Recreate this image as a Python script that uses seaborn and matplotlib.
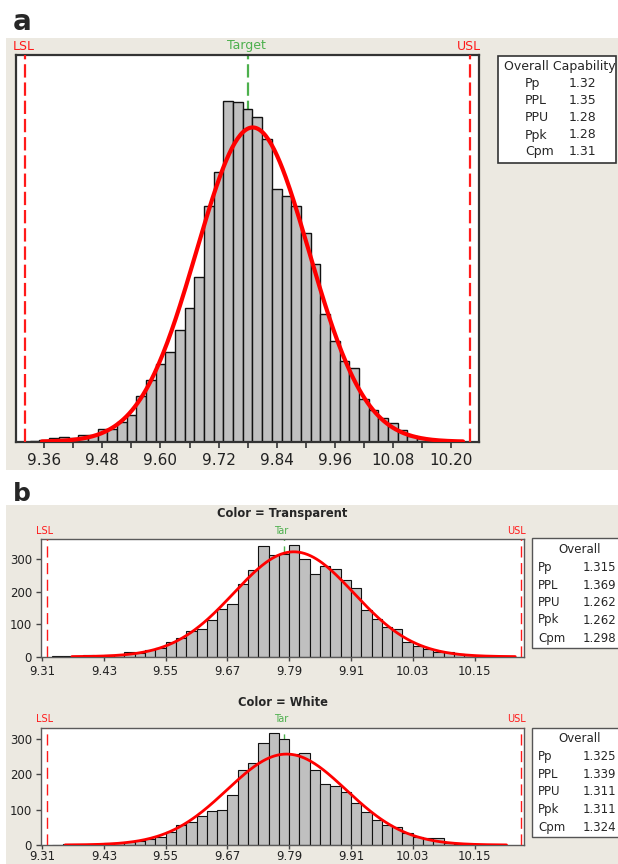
import numpy as np
import pandas as pd
import matplotlib
matplotlib.use('Agg')
import matplotlib.pyplot as plt
from matplotlib.patches import Rectangle
import seaborn as sns

# ---- data ----
# bin centres, bin width 0.02
bin_centers = np.round(np.arange(9.34, 10.201, 0.02), 2)
bin_width = 0.02

# Color = Transparent counts
counts_transparent = [1, 1, 3, 4, 3, 6, 6, 14, 12, 20,
                      26, 46, 56, 78, 84, 112, 146, 162, 225, 266,
                      340, 312, 316, 344, 300, 253, 280, 269, 236, 210,
                      144, 115, 92, 84, 46, 34, 24, 15, 15, 8,
                      5, 2, 1, 0]
# Color = White counts
counts_white = [0, 2, 3, 4, 3, 7, 6, 9, 12, 16,
                24, 38, 57, 66, 82, 95, 100, 142, 211, 232,
                289, 316, 299, 256, 259, 213, 173, 167, 149, 118,
                92, 71, 57, 52, 33, 24, 19, 19, 7, 3,
                2, 1, 1, 1]
# panel a is both colours pooled
counts_all = list(np.array(counts_transparent) + np.array(counts_white))

LSL = 9.32
TARGET = 9.78
USL = 10.24

stat_names = ['Pp', 'PPL', 'PPU', 'Ppk', 'Cpm']
stats_all = ['1.32', '1.35', '1.28', '1.28', '1.31']
stats_transparent = ['1.315', '1.369', '1.262', '1.262', '1.298']
stats_white = ['1.325', '1.339', '1.311', '1.311', '1.324']

# x range covered by the fitted normal curve
curve_range_all = (9.355, 10.225)
curve_range_transparent = (9.368, 10.229)
curve_range_white = (9.355, 10.212)

# ---- figure ----
sns.set_style('ticks')
plt.rcParams['font.family'] = ['DejaVu Sans']

W, H = 618, 864
fig = plt.figure(figsize=(W / 100, H / 100), dpi=100)
fig.patch.set_facecolor('white')

beige = '#ECE9E1'
red = '#FF1A1A'
green = '#4DB04D'


def fbox(l, t, r, b):
    return [l / W, 1 - b / H, (r - l) / W, (b - t) / H]


def ftext(x, y, s, **kw):
    fig.text(x / W, 1 - y / H, s, **kw)


def frect(l, t, r, b, **kw):
    fig.add_artist(Rectangle((l / W, 1 - b / H), (r - l) / W, (b - t) / H,
                             transform=fig.transFigure, **kw))


def fit_curve(counts, pp, ppl, crange):
    # normal fit from the printed Pp / PPL
    sigma = (USL - LSL) / (6 * float(pp))
    mean = LSL + 3 * sigma * float(ppl)
    n = sum(counts)
    x = np.linspace(crange[0], crange[1], 300)
    y = n * bin_width * np.exp(-0.5 * ((x - mean) / sigma) ** 2) / (sigma * np.sqrt(2 * np.pi))
    return x, y


def draw_panel(ax, counts, stats, crange, curve_lw, line_lw, dash, edge_lw, spine_col, spine_lw):
    df = pd.DataFrame({'value': bin_centers, 'count': np.asarray(counts, dtype=float)})
    edges = list(np.append(bin_centers - bin_width / 2, bin_centers[-1] + bin_width / 2))
    sns.histplot(data=df, x='value', weights='count', bins=edges, ax=ax,
                 color='#C0C0C0', edgecolor='#111111', linewidth=edge_lw, alpha=1, zorder=2)
    ax.axvline(TARGET, color=green, lw=line_lw, ls=(0, dash), zorder=1)
    ax.axvline(LSL, color=red, lw=line_lw, ls=(0, dash), zorder=3)
    ax.axvline(USL, color=red, lw=line_lw, ls=(0, dash), zorder=3)
    x, y = fit_curve(counts, stats[0], stats[1], crange)
    ax.plot(x, y, color='#FF0000', lw=curve_lw, zorder=4, solid_capstyle='round')
    ax.set_ylabel('')
    ax.set_xlabel('')
    for s in ax.spines.values():
        s.set_visible(True)
        s.set_color(spine_col)
        s.set_linewidth(spine_lw)


# backgrounds
frect(6, 38, 618, 470, facecolor=beige, edgecolor='none', zorder=0)
frect(6, 505, 618, 864, facecolor=beige, edgecolor='none', zorder=0)

# ---------- panel a ----------
ax_a = fig.add_axes(fbox(16, 55, 479, 441.7))
draw_panel(ax_a, counts_all, stats_all, curve_range_all, 3.0, 1.6, (6, 2.2), 1.0, '#333333', 1.6)
ax_a.set_xlim(9.3015, 10.258)
ax_a.set_ylim(0, max(counts_all) * 1.135)
ax_a.set_yticks([])
a_ticks = np.round(np.arange(9.36, 10.201, 0.06), 2)
ax_a.set_xticks(a_ticks)
ax_a.set_xticklabels([f'{v:.2f}' if i % 2 == 0 else '' for i, v in enumerate(a_ticks)])
ax_a.tick_params(axis='x', length=4, width=1.2, color='#333333', labelsize=11,
                 labelcolor='#222222', pad=4)

ftext(12.5, 30.5, 'a', fontsize=20, fontweight='bold', ha='left', va='baseline')
ftext(24, 46, 'LSL', color=red, fontsize=9, ha='center', va='center')
ftext(246, 46, 'Target', color=green, fontsize=9, ha='center', va='center')
ftext(468.5, 46, 'USL', color=red, fontsize=9, ha='center', va='center')

frect(498, 56, 616, 163, facecolor='white', edgecolor='#333333', lw=1.2, zorder=1)
ftext(504, 66.7, 'Overall Capability', fontsize=9, ha='left', va='center')
for name, val, yy in zip(stat_names, stats_all, [83.3, 101, 117.7, 135, 151.7]):
    ftext(525, yy, name, fontsize=9, ha='left', va='center')
    ftext(568.3, yy, val, fontsize=9, ha='left', va='center')

# ---------- panel b ----------
ftext(12.5, 500.7, 'b', fontsize=18, fontweight='bold', ha='left', va='baseline')

b_ticks = np.round(np.arange(9.31, 10.151, 0.12), 2)
panels_b = [
    ('Transparent', counts_transparent, stats_transparent, curve_range_transparent, 539.3, 656.7,
     [549.3, 567.7, 585.3, 602.3, 620, 638.3], 538.3, 648.3, 3),
    ('White', counts_white, stats_white, curve_range_white, 727.7, 845,
     [738.3, 756.7, 774.7, 791.3, 809.7, 827.3], 727.7, 837.3, 0.8),
]
for label, counts, stats, crange, top, bottom, rows_y, box_t, box_b, xpad in panels_b:
    ax = fig.add_axes(fbox(41, top, 524, bottom))
    draw_panel(ax, counts, stats, crange, 2.0, 1.0, (8, 4), 0.8, '#5A5A5A', 1.0)
    ax.set_xlim(9.308, 10.246)
    ax.set_ylim(0, max(counts) * 1.05)
    ax.set_xticks(b_ticks)
    ax.set_xticklabels([f'{v:.2f}' for v in b_ticks])
    ax.set_yticks([0, 100, 200, 300])
    ax.tick_params(length=3.5, width=1, color='#444444', labelsize=8.5,
                   labelcolor='#222222', pad=3)
    ax.tick_params(axis='x', length=3, pad=xpad)

    ftext(282.5, top - 25.3, 'Color = ' + label, fontsize=8.3, fontweight='bold',
          ha='center', va='center')
    ftext(44.7, top - 8.5, 'LSL', color=red, fontsize=7, ha='center', va='center')
    ftext(281, top - 8.5, 'Tar', color=green, fontsize=7, ha='center', va='center')
    ftext(517, top - 8.5, 'USL', color=red, fontsize=7, ha='center', va='center')

    frect(531.7, box_t, 650, box_b, facecolor='white', edgecolor='#555555', lw=1.0, zorder=1)
    ftext(579.3, rows_y[0], 'Overall', fontsize=8.5, ha='center', va='center')
    for name, val, yy in zip(stat_names, stats, rows_y[1:]):
        ftext(538.3, yy, name, fontsize=8.5, ha='left', va='center')
        ftext(582.7, yy, val, fontsize=8.5, ha='left', va='center')

fig.savefig('out.png', dpi=100)
